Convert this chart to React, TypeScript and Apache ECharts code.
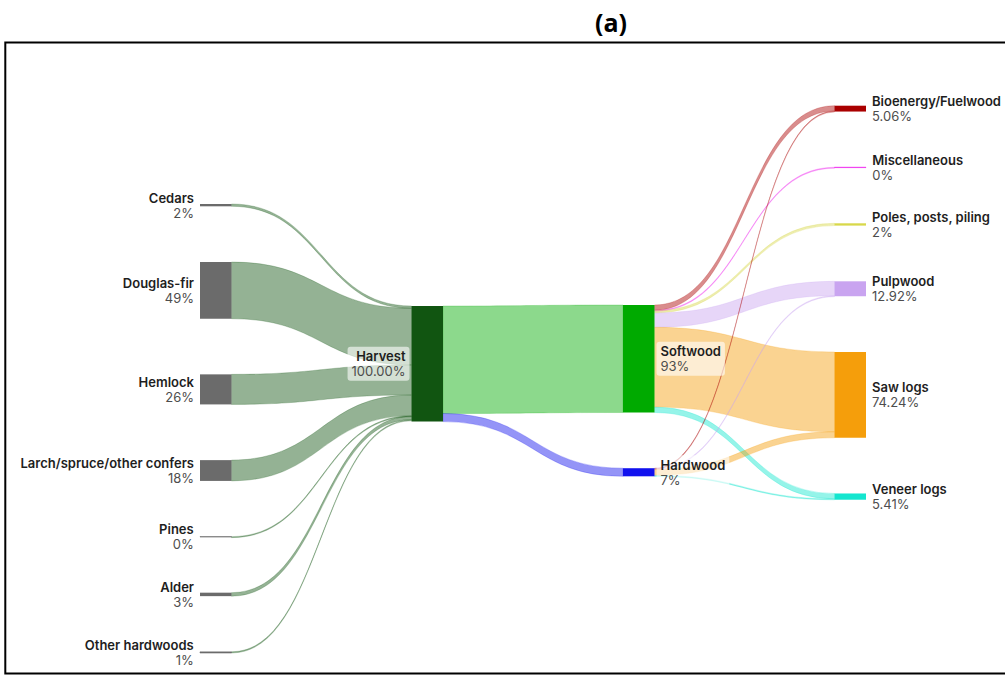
import React, { useEffect, useRef } from "react";
import * as echarts from "echarts";

// ---------- data ----------
const speciesNames = [
  "Cedars",
  "Douglas-fir",
  "Hemlock",
  "Larch/spruce/other confers",
  "Pines",
  "Alder",
  "Other hardwoods",
];
const speciesToHarvest = [2, 49, 26, 18, 0.3, 3, 1];
const speciesLabels = ["2%", "49%", "26%", "18%", "0%", "3%", "1%"];

const harvestName = "Harvest";
const harvestLabel = "100.00%";

const typeNames = ["Softwood", "Hardwood"];
const harvestToType = [93, 7];
const typeLabels = ["93%", "7%"];

const productNames = [
  "Bioenergy/Fuelwood",
  "Miscellaneous",
  "Poles, posts, piling",
  "Pulpwood",
  "Saw logs",
  "Veneer logs",
];
const productLabels = ["5.06%", "0%", "2%", "12.92%", "74.24%", "5.41%"];
const softwoodToProduct = [4.56, 0.3, 2.0, 12.42, 69.04, 4.61];
const hardwoodToProduct = [0.5, 0, 0, 0.5, 5.2, 0.8];

// ---------- styles ----------
const speciesColor = "#6b6b6b";
const harvestColor = "#115511";
const typeColors = ["#00aa00", "#1111ee"];
const productColors = ["#aa0000", "#ee22ee", "#d8d84a", "#c9a4f0", "#f59e0b", "#14e6cf"];

// ---------- layout ----------
const LEFT = 200;
const WIDTH = 666;
const TOP = 204;
const HEIGHT = 449;
const NODE_W = 31.5;
const GAP = 55.7;
const columnTops = [204, 306, 305, 105.7];

const sum = (a: number[]) => a.reduce((s, v) => s + v, 0);

function buildOption() {
  const columns: { name: string; value: number; color: string; text: string; pos: string }[][] = [
    speciesNames.map((n, i) => ({
      name: n,
      value: speciesToHarvest[i],
      color: speciesColor,
      text: speciesLabels[i],
      pos: "left",
    })),
    [
      {
        name: harvestName,
        value: Math.max(sum(speciesToHarvest), sum(harvestToType)),
        color: harvestColor,
        text: harvestLabel,
        pos: "left",
      },
    ],
    typeNames.map((n, i) => ({
      name: n,
      value: Math.max(harvestToType[i], sum(i === 0 ? softwoodToProduct : hardwoodToProduct)),
      color: typeColors[i],
      text: typeLabels[i],
      pos: "right",
    })),
    productNames.map((n, i) => ({
      name: n,
      value: softwoodToProduct[i] + hardwoodToProduct[i],
      color: productColors[i],
      text: productLabels[i],
      pos: "right",
    })),
  ];

  const ky = Math.min(
    ...columns.map((c) => (HEIGHT - (c.length - 1) * GAP) / sum(c.map((d) => d.value)))
  );

  const labelText: Record<string, string> = {};
  const colorOf: Record<string, string> = {};
  const nodes: any[] = [];
  columns.forEach((col, ci) => {
    let y = columnTops[ci];
    col.forEach((d) => {
      labelText[d.name] = d.text;
      colorOf[d.name] = d.color;
      const tiny = d.value < 1.5;
      nodes.push({
        name: d.name,
        localY: (y - TOP) / HEIGHT,
        itemStyle: {
          color: d.color,
          borderColor: d.color,
          borderWidth: tiny ? 0.6 : 0,
        },
        label: { position: d.pos },
      });
      y += d.value * ky + GAP;
    });
  });

  const links: any[] = [];
  const addLink = (source: string, target: string, value: number) => {
    if (!(value > 0)) return;
    links.push({
      source,
      target,
      value,
      lineStyle: { borderColor: colorOf[target], borderWidth: 0.5 },
    });
  };
  speciesNames.forEach((n, i) => addLink(n, harvestName, speciesToHarvest[i]));
  typeNames.forEach((n, i) => addLink(harvestName, n, harvestToType[i]));
  productNames.forEach((n, i) => addLink(typeNames[0], n, softwoodToProduct[i]));
  productNames.forEach((n, i) => addLink(typeNames[1], n, hardwoodToProduct[i]));

  return {
    animation: false,
    graphic: [
      {
        type: "rect",
        silent: true,
        shape: { x: 5.3, y: 42.5, width: 1010, height: 631 },
        style: { fill: "none", stroke: "#000", lineWidth: 2 },
      },
      {
        type: "text",
        silent: true,
        x: 611,
        y: 22,
        style: {
          text: "(a)",
          font: 'bold 25px "Open Sans", sans-serif',
          fill: "#000",
          align: "center",
          verticalAlign: "middle",
          textAlign: "center",
          textVerticalAlign: "middle",
        },
      },
    ],
    series: [
      {
        type: "sankey",
        left: LEFT,
        top: TOP,
        width: WIDTH,
        height: HEIGHT,
        nodeWidth: NODE_W,
        nodeGap: GAP,
        layoutIterations: 0,
        draggable: false,
        emphasis: { disabled: true },
        data: nodes,
        links,
        lineStyle: { color: "target", opacity: 0.45, curveness: 0.5 },
        label: {
          show: true,
          position: "right",
          distance: 2,
          padding: [2, 4],
          borderRadius: 3,
          backgroundColor: "rgba(255,255,255,0.6)",
          formatter: (p: any) => `{n|${p.name}}\n{v|${labelText[p.name]}}`,
          rich: {
            n: { fontFamily: "Inter", fontSize: 13, fontWeight: 600, color: "#1e1e1e", lineHeight: 15 },
            v: { fontFamily: "Inter", fontSize: 13, color: "#4d4d4d", lineHeight: 15 },
          },
        },
      },
    ],
  };
}

export default function App() {
  const ref = useRef<HTMLDivElement>(null);
  useEffect(() => {
    if (!ref.current) return;
    const chart = echarts.init(ref.current, undefined, { renderer: "svg" });
    chart.setOption(buildOption() as any);
    return () => chart.dispose();
  }, []);
  return (
    <div
      ref={ref}
      style={{ position: "absolute", left: 0, top: 0, width: 1005, height: 675, background: "#fff" }}
    />
  );
}
